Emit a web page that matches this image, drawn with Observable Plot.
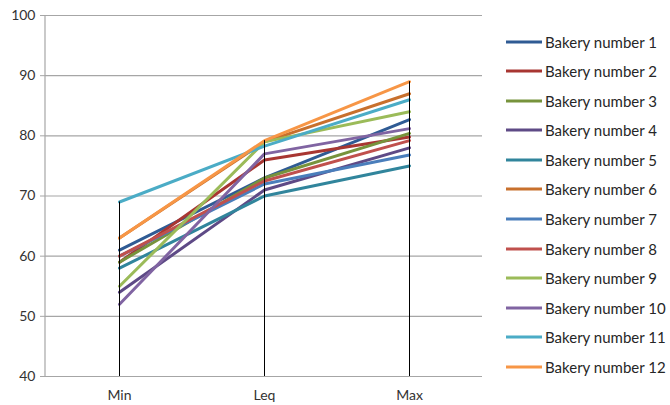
<!DOCTYPE html>
<html>
<head>
<meta charset="utf-8">
<script src="https://cdn.jsdelivr.net/npm/d3@7"></script>
<script src="https://cdn.jsdelivr.net/npm/@observablehq/plot@0.6"></script>
<style>
  html, body { margin: 0; padding: 0; background: #fff; }
  #wrap { position: relative; width: 670px; height: 405px; font-family: Lato, "Open Sans", sans-serif; }
  #legend { position: absolute; left: 506px; top: 0; }
  .row { position: absolute; left: 0; height: 20px; display: flex; align-items: center; white-space: nowrap; font-size: 15px; color: #262626; }
  .row svg { margin-right: 3px; }
</style>
</head>
<body>
<div id="wrap"><div id="legend"></div></div>
<script>
const categories = ["Min", "Leq", "Max"];
const bakeries = ["Bakery number 1","Bakery number 2","Bakery number 3","Bakery number 4","Bakery number 5","Bakery number 6","Bakery number 7","Bakery number 8","Bakery number 9","Bakery number 10","Bakery number 11","Bakery number 12"];
const minValues = [61, 59, 59, 54, 58, 63, 60, 60, 55, 52, 69, 63];
const leqValues = [73, 76, 73, 71, 70, 79, 72, 72.5, 79, 77, 78.3, 79.2];
const maxValues = [82.7, 79.8, 80.4, 78, 75, 87, 76.8, 79.2, 84, 81.2, 86, 89];
const colors = ["#2f5b94","#a83632","#77933c","#5e4a86","#31859c","#c8702d","#4a7ebb","#c0504d","#9bbb59","#8064a2","#4bacc6","#f79646"];
const yTicks = [40, 50, 60, 70, 80, 90, 100];

const series = [minValues, leqValues, maxValues];
const data = bakeries.flatMap((b, i) => categories.map((c, j) => ({bakery: b, cat: c, value: series[j][i]})));
const tops = categories.map((c, j) => ({cat: c, top: d3.max(series[j])}));

const chart = Plot.plot({
  width: 670,
  height: 405,
  marginLeft: 45,
  marginRight: 188,
  marginTop: 15,
  marginBottom: 29,
  style: {fontFamily: "Lato, 'Open Sans', sans-serif", fontSize: "14px", background: "#fff"},
  x: {type: "point", domain: categories, padding: 0.5, label: null},
  y: {domain: [40, 100], label: null},
  color: {domain: bakeries, range: colors},
  marks: [
    Plot.gridY(yTicks, {stroke: "#a6a6a6", strokeOpacity: 1, strokeWidth: 1.2}),
    Plot.axisY(yTicks, {tickSize: 5, tickPadding: 5, stroke: "#a6a6a6", strokeOpacity: 1, fill: "#333", label: null, fontSize: 14}),
    Plot.axisX({tickSize: 0, tickPadding: 14, fill: "#333", label: null, fontSize: 14}),
    Plot.line(data, {x: "cat", y: "value", z: "bakery", stroke: "bakery", strokeWidth: 3, strokeLinejoin: "round"}),
    Plot.ruleX(tops, {x: "cat", y1: 40, y2: "top", stroke: "#000", strokeWidth: 1})
  ]
});

// y axis line (left) drawn through the plot's own scales
const ys = chart.scale("y");
const svg = d3.select(chart);
const x0 = 45;
svg.append("line")
  .attr("x1", x0).attr("x2", x0)
  .attr("y1", ys.apply(100)).attr("y2", ys.apply(40))
  .attr("stroke", "#a6a6a6").attr("stroke-width", 1.2);

document.getElementById("wrap").prepend(chart);

const legend = document.getElementById("legend");
bakeries.forEach((b, i) => {
  const row = document.createElement("div");
  row.className = "row";
  row.style.top = (31.7 + 29.55 * i) + "px";
  row.innerHTML = `<svg width="36" height="6"><line x1="0" x2="36" y1="3" y2="3" stroke="${colors[i]}" stroke-width="3"/></svg><span>${b}</span>`;
  legend.appendChild(row);
});
</script>
</body>
</html>
